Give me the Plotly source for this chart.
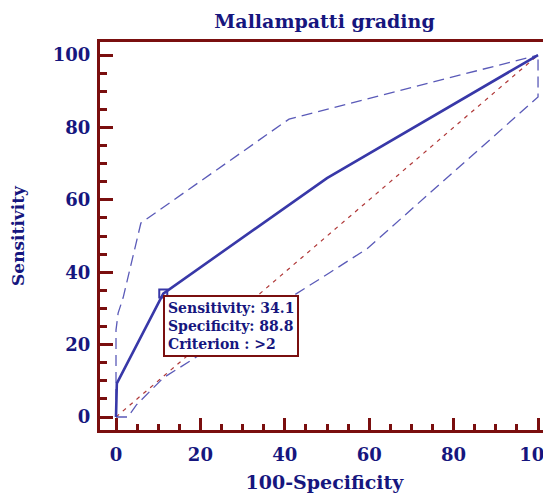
import plotly.graph_objects as go

# ROC curve (100-Specificity, Sensitivity)
roc_x = [0, 0.2, 11.2, 50, 100]
roc_y = [0, 9.3, 34.1, 66, 100]

# upper confidence bound
upper_x = [0, 0, 0.5, 1.7, 5.9, 9.3, 41, 100]
upper_y = [0, 24, 28.7, 33, 53.6, 56.4, 82.3, 100]

# lower confidence bound
lower_x = [0, 2.8, 4.8, 11.2, 50.8, 59.5, 100, 100]
lower_y = [0, 0, 3.3, 10.8, 40, 46.5, 88.4, 100]

# reference diagonal
diag_x = [0, 100]
diag_y = [0, 100]

# selected criterion
crit_x = [11.2]
crit_y = [34.1]
crit_sens = 34.1
crit_spec = 88.8
crit_label = ">2"

x_ticks = [0, 20, 40, 60, 80, 100]
y_ticks = [0, 20, 40, 60, 80, 100]

navy = "#16167e"
maroon = "#7a0f0f"
blue = "#3838a8"
band = "#5a5ab8"
red = "#b03838"
font_family = "DejaVu Serif, Liberation Serif, serif"

fig = go.Figure()
fig.add_trace(go.Scatter(x=diag_x, y=diag_y, mode="lines",
                         line=dict(color=red, width=1.2, dash="4px,5px"),
                         hoverinfo="skip"))
fig.add_trace(go.Scatter(x=upper_x, y=upper_y, mode="lines",
                         line=dict(color=band, width=1.3, dash="11px,6px"),
                         hoverinfo="skip"))
fig.add_trace(go.Scatter(x=lower_x, y=lower_y, mode="lines",
                         line=dict(color=band, width=1.3, dash="11px,6px"),
                         hoverinfo="skip"))
fig.add_trace(go.Scatter(x=roc_x, y=roc_y, mode="lines",
                         line=dict(color=blue, width=2.6)))
fig.add_trace(go.Scatter(x=crit_x, y=crit_y, mode="markers",
                         marker=dict(symbol="square-open", size=8,
                                     color=blue, line=dict(width=2, color=blue))))

fig.add_annotation(
    x=crit_x[0], y=crit_y[0], xref="x", yref="y",
    xanchor="left", yanchor="top", showarrow=False, align="left",
    xshift=0, yshift=-1,
    text=f"Sensitivity: {crit_sens}<br>Specificity: {crit_spec}<br>Criterion : {crit_label}",
    font=dict(family=font_family, size=14, color=navy, weight="bold"),
    bgcolor="white", bordercolor=maroon, borderwidth=2, borderpad=3,
)

# faint right border
fig.add_shape(type="line", xref="paper", yref="paper", x0=1, x1=1, y0=0, y1=1,
              line=dict(color="#e8c4c4", width=1.5))

fig.update_layout(
    width=551, height=493,
    margin=dict(l=92, r=10, t=34, b=71),
    plot_bgcolor="white", paper_bgcolor="white",
    showlegend=False,
    title=dict(text="Mallampatti grading", x=0.5, xref="paper", xanchor="center",
               y=0.972, yanchor="middle",
               font=dict(family=font_family, size=19, color=navy, weight="bold")),
    xaxis=dict(range=[-3.79, 102.6], tickvals=x_ticks, showgrid=False, zeroline=False,
               automargin=False, ticklabeloverflow="allow",
               showline=True, linecolor=maroon, linewidth=3, mirror=True,
               ticks="inside", ticklen=12, tickwidth=2.5, tickcolor=maroon,
               minor=dict(dtick=5, tick0=0, ticks="inside", ticklen=6, tickwidth=2.5,
                          tickcolor=maroon, showgrid=False),
               tickfont=dict(family=font_family, size=18, color=navy, weight="bold"),
               ticklabelstandoff=6,
               title=dict(text="100-Specificity",
                          font=dict(family=font_family, size=19, color=navy, weight="bold"),
                          standoff=13)),
    yaxis=dict(range=[-3.59, 103.6], tickvals=y_ticks, showgrid=False, zeroline=False,
               automargin=False, ticklabeloverflow="allow",
               showline=True, linecolor=maroon, linewidth=3,
               ticks="inside", ticklen=13, tickwidth=2.5, tickcolor=maroon,
               minor=dict(dtick=5, tick0=0, ticks="inside", ticklen=7, tickwidth=2.5,
                          tickcolor=maroon, showgrid=False),
               tickfont=dict(family=font_family, size=18, color=navy, weight="bold"),
               ticklabelstandoff=3,
               title=dict(text="Sensitivity",
                          font=dict(family=font_family, size=17, color=navy, weight="bold"),
                          standoff=32)),
)

fig.write_html("out.html")
